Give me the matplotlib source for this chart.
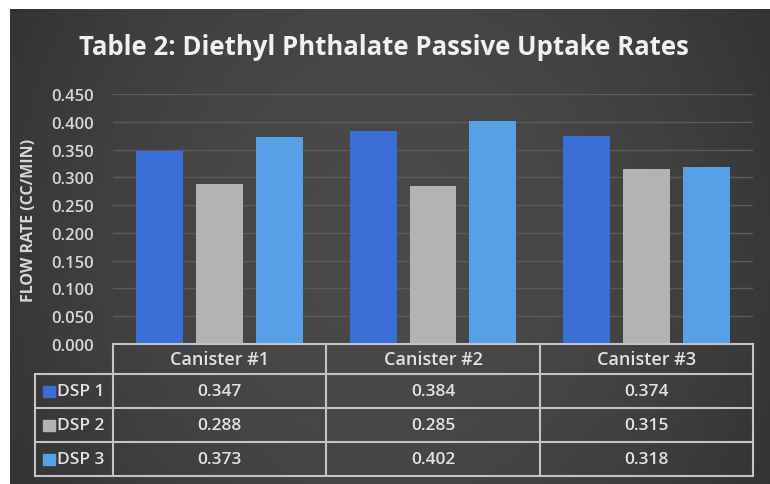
import numpy as np
import matplotlib.pyplot as plt
from matplotlib.patches import Rectangle
import matplotlib.transforms as mtransforms

plt.rcParams["font.family"] = ["Open Sans", "DejaVu Sans"]

canisters = ["Canister #1", "Canister #2", "Canister #3"]
series = ["DSP 1", "DSP 2", "DSP 3"]
dsp1 = [0.347, 0.384, 0.374]
dsp2 = [0.288, 0.285, 0.315]
dsp3 = [0.373, 0.402, 0.318]
colors = ["#3b6dd6", "#b3b3b3", "#55a0e6"]
yticks = np.arange(0, 0.451, 0.05)

W, H = 770, 485
fig = plt.figure(figsize=(7.7, 4.85), dpi=100, facecolor="white")

# dark panel with soft horizontal gradient
bg = fig.add_axes([10 / W, 0, 1 - 10 / W, 1 - 10 / H], zorder=0)
gx = np.linspace(-1, 1, 400)
gy = np.linspace(-1, 1, 200)
X, Y = np.meshgrid(gx, gy)
shade = 0.29 - 0.07 * X**2 - 0.02 * Y**2
bg.imshow(np.dstack([shade] * 3), aspect="auto", extent=[0, 1, 0, 1])
bg.set_axis_off()

ax = fig.add_axes([113 / W, 1 - 345 / H, 640 / W, 250 / H], zorder=1)
ax.set_facecolor("none")
for s in ax.spines.values():
    s.set_visible(False)

x = np.arange(len(canisters))
offsets = [-0.28, 0.0, 0.28]
for vals, off, c in zip([dsp1, dsp2, dsp3], offsets, colors):
    ax.bar(x + off, vals, width=0.22, color=c, zorder=3)

ax.set_xlim(-0.5, 2.5)
ax.set_ylim(0, 0.45)
ax.set_yticks(yticks)
ax.set_yticklabels([f"{t:.3f}" for t in yticks], fontweight="semibold")
ax.set_xticks([])
ax.tick_params(axis="y", length=0, pad=14, labelsize=12, labelcolor="#d6d6d6")
ax.grid(axis="y", color="#5a5a5a", lw=1, zorder=0)
ax.set_ylabel("FLOW RATE (CC/MIN)", fontsize=11.5, fontweight="bold", color="#d6d6d6")
ax.yaxis.set_label_coords(-76 / 640, 0.5)

fig.text(0.498, 1 - 55 / H, "Table 2: Diethyl Phthalate Passive Uptake Rates",
         ha="center", va="baseline", fontsize=18.5, fontweight="bold", color="#f0f0f0")

# data table under the bars
tr = mtransforms.blended_transform_factory(ax.transData, ax.transAxes)
def yf(p):
    return (345 - p) / 250

rows_px = [345, 375, 409, 443, 477]
left = -0.5 - 78 / 213.3
lc = "#c4c4c4"
kw = dict(transform=tr, color=lc, lw=1.5, clip_on=False, zorder=4)
ax.plot([-0.5, 2.5], [yf(rows_px[0])] * 2, **kw)
for p in rows_px[1:]:
    ax.plot([left, 2.5], [yf(p)] * 2, **kw)
for xb in [-0.5, 0.5, 1.5, 2.5]:
    ax.plot([xb, xb], [yf(rows_px[0]), yf(rows_px[-1])], **kw)
ax.plot([left, left], [yf(rows_px[1]), yf(rows_px[-1])], **kw)

tkw = dict(transform=tr, color="#e2e2e2", ha="center", va="center",
           fontweight="semibold", clip_on=False)
hy = yf((rows_px[0] + rows_px[1]) / 2)
for i, name in enumerate(canisters):
    ax.text(i, hy, name, fontsize=13, **tkw)
for r, (name, vals, c) in enumerate(zip(series, [dsp1, dsp2, dsp3], colors)):
    cy = yf((rows_px[r + 1] + rows_px[r + 2]) / 2)
    for i, v in enumerate(vals):
        ax.text(i, cy, f"{v:.3f}", fontsize=12.5, **tkw)
    sx = -0.5 - 70 / 213.3
    ax.add_patch(Rectangle((sx, cy - 0.022), 12 / 213.3, 0.044, transform=tr,
                           color=c, clip_on=False, zorder=5))
    ax.text(-0.5 - 56 / 213.3, cy, name, transform=tr, color="#e2e2e2", fontsize=12.5,
            fontweight="semibold", ha="left", va="center", clip_on=False)

fig.savefig("out.png", dpi=100, facecolor="white")
